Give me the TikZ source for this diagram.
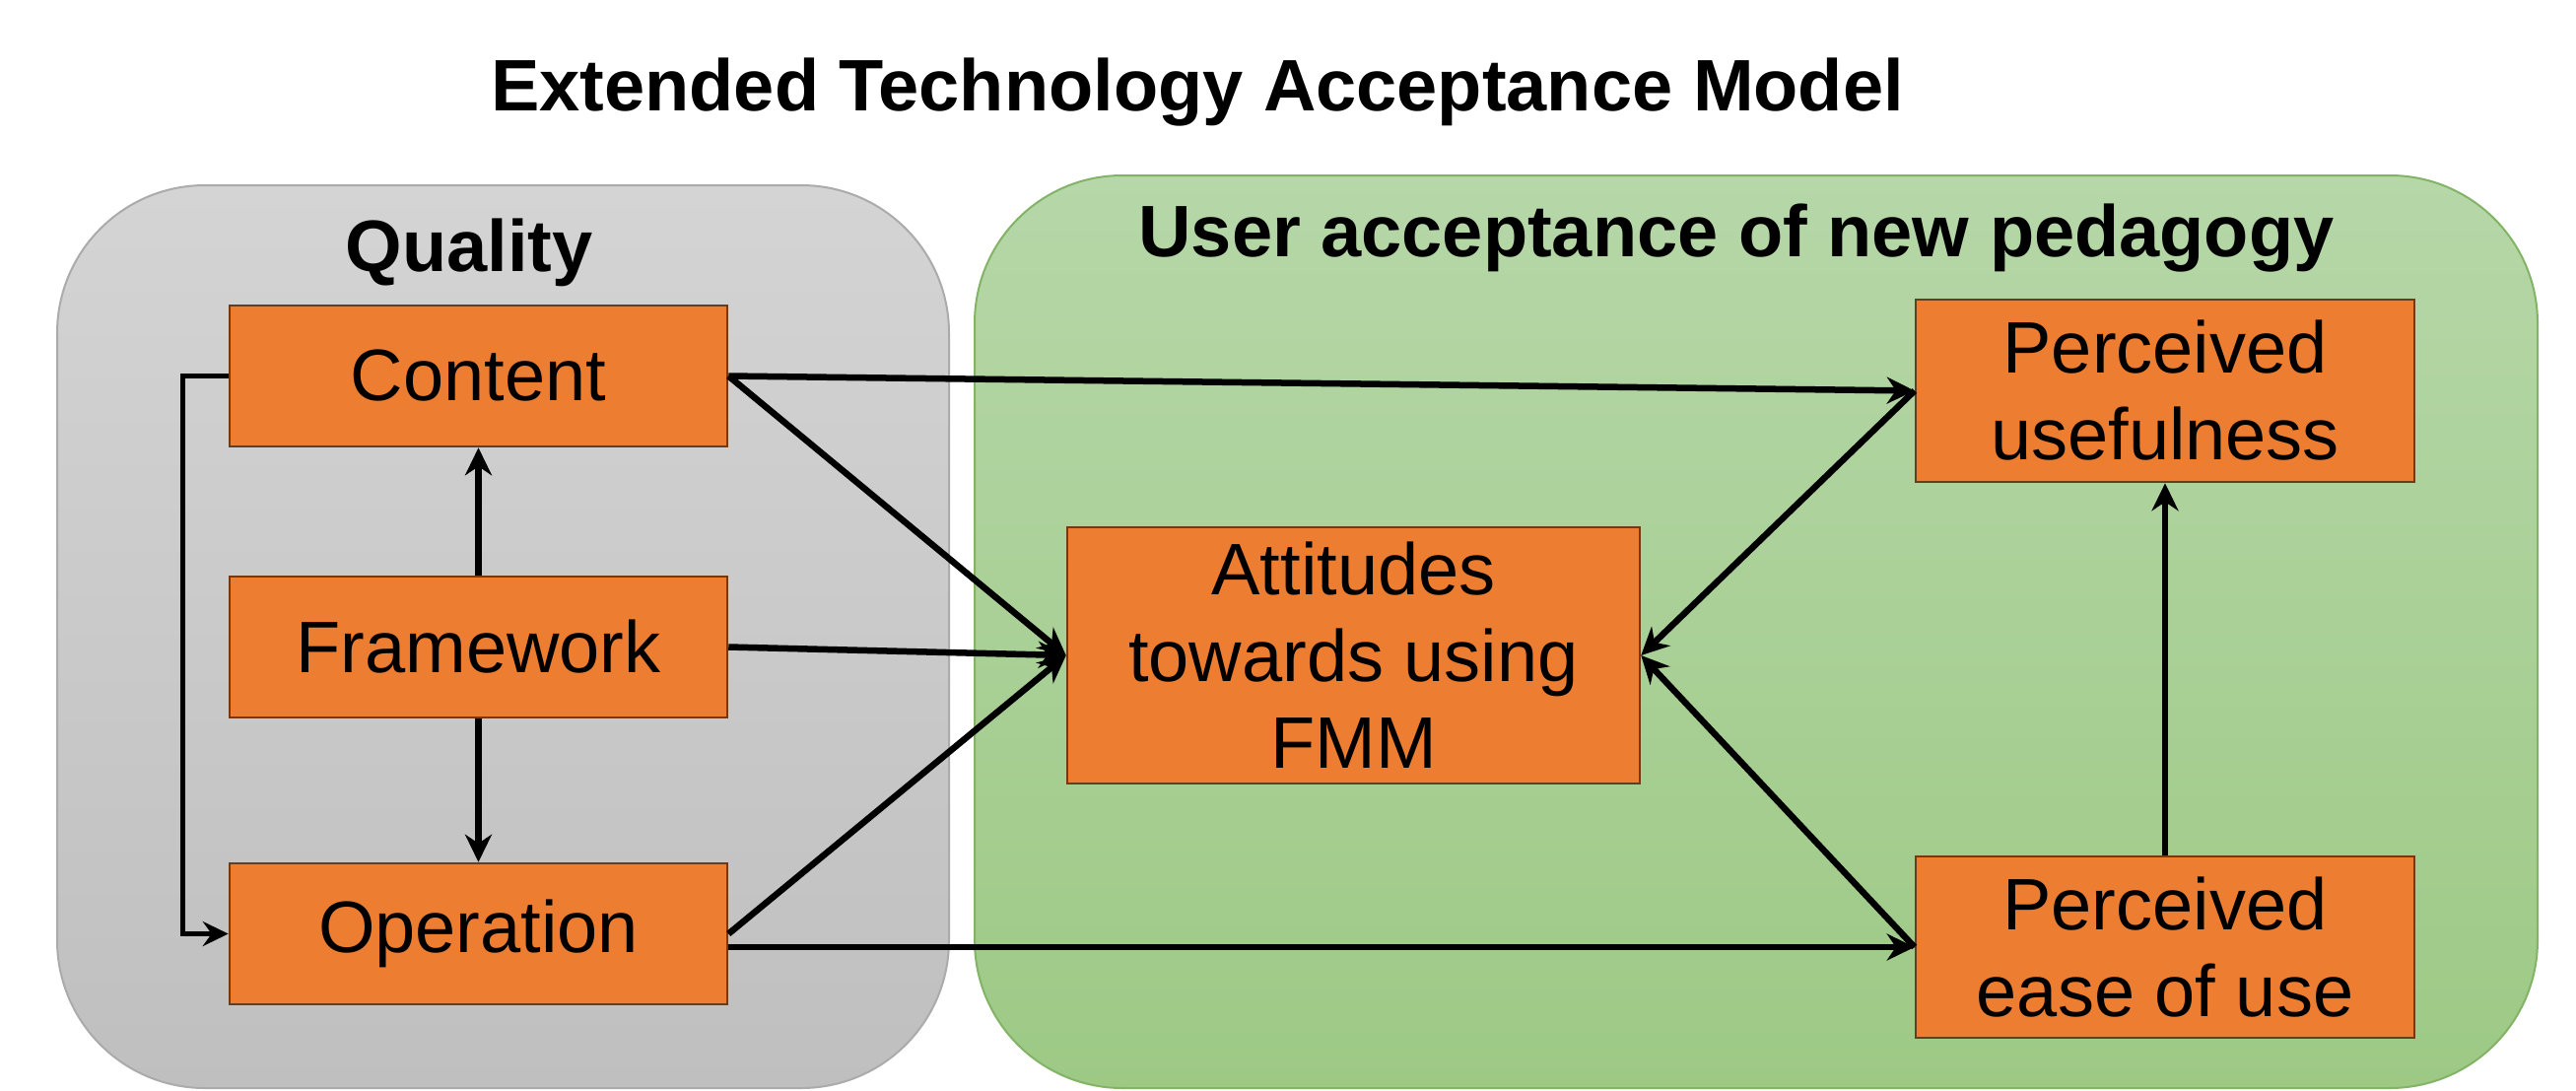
\documentclass[tikz,border=0pt]{standalone}
\usepackage{fontspec}
\setmainfont{Liberation Sans}
\usetikzlibrary{arrows.meta}
\definecolor{orangefill}{HTML}{ED7D31}
\definecolor{orangeline}{HTML}{6E3B17}
\definecolor{graytop}{HTML}{D4D4D4}
\definecolor{graybot}{HTML}{BFBFBF}
\definecolor{grayline}{HTML}{ABABAB}
\definecolor{greentop}{HTML}{B6D7A8}
\definecolor{greenbot}{HTML}{9DC985}
\definecolor{greenline}{HTML}{82B366}
\begin{document}
\begin{tikzpicture}[x=1pt,y=-1pt,
  obox/.style={draw=orangeline, line width=2.5pt, fill=orangefill, inner sep=0pt,
    align=center, font=\fontsize{74}{88}\selectfont},
  conn/.style={line width=6.5pt, -{Stealth[length=28pt,width=27pt,inset=9pt]}},
  bconn/.style={line width=5pt, -{Stealth[length=26pt,width=25pt,inset=9pt]}},
  titletext/.style={anchor=base, inner sep=0pt, font=\bfseries\fontsize{74}{88}\selectfont},
  container/.style={line width=2pt, rounded corners=150pt}]
\useasboundingbox (0,0) rectangle (2614,1106);
% containers
\path[container, draw=grayline, top color=graytop, bottom color=graybot] (58,188) rectangle (963,1104);
\path[container, draw=greenline, top color=greentop, bottom color=greenbot] (989,178) rectangle (2575,1104);
% titles
\node[titletext] (title) at (1215,112) {Extended Technology Acceptance Model};
\node[titletext] (quality) at (476,275) {Quality};
\node[titletext] (user) at (1762,260) {User acceptance of new pedagogy};
% boxes
\node[obox, minimum width=505pt, minimum height=143pt] (content) at (485.5,381.5) {Content};
\node[obox, minimum width=505pt, minimum height=143pt] (framework) at (485.5,656.5) {Framework};
\node[obox, minimum width=505pt, minimum height=143pt] (operation) at (485.5,947.5) {Operation};
\node[obox, minimum width=581pt, minimum height=260pt] (att) at (1373.5,665) {Attitudes\\towards using\\FMM};
\node[obox, minimum width=506pt, minimum height=185pt] (pu) at (2197,396.5) {Perceived\\usefulness};
\node[obox, minimum width=506pt, minimum height=184pt] (peou) at (2197,961) {Perceived\\ease of use};
% connectors
\draw[conn] (content.east) -- (pu.west);
\draw[conn] (content.east) -- (att.west);
\draw[conn] (framework.east) -- (att.west);
\draw[conn] (operation.east) -- (att.west);
\draw[conn] (operation.east |- peou.west) -- (peou.west);
\draw[conn] (pu.west) -- (att.east);
\draw[conn] (peou.west) -- (att.east);
\draw[conn] (peou.north) -- (pu.south);
\draw[conn] (framework.north) -- (content.south);
\draw[conn] (framework.south) -- (operation.north);
\draw[bconn] (content.west) -- ++(-46,0) |- (operation.west);
\end{tikzpicture}
\end{document}
